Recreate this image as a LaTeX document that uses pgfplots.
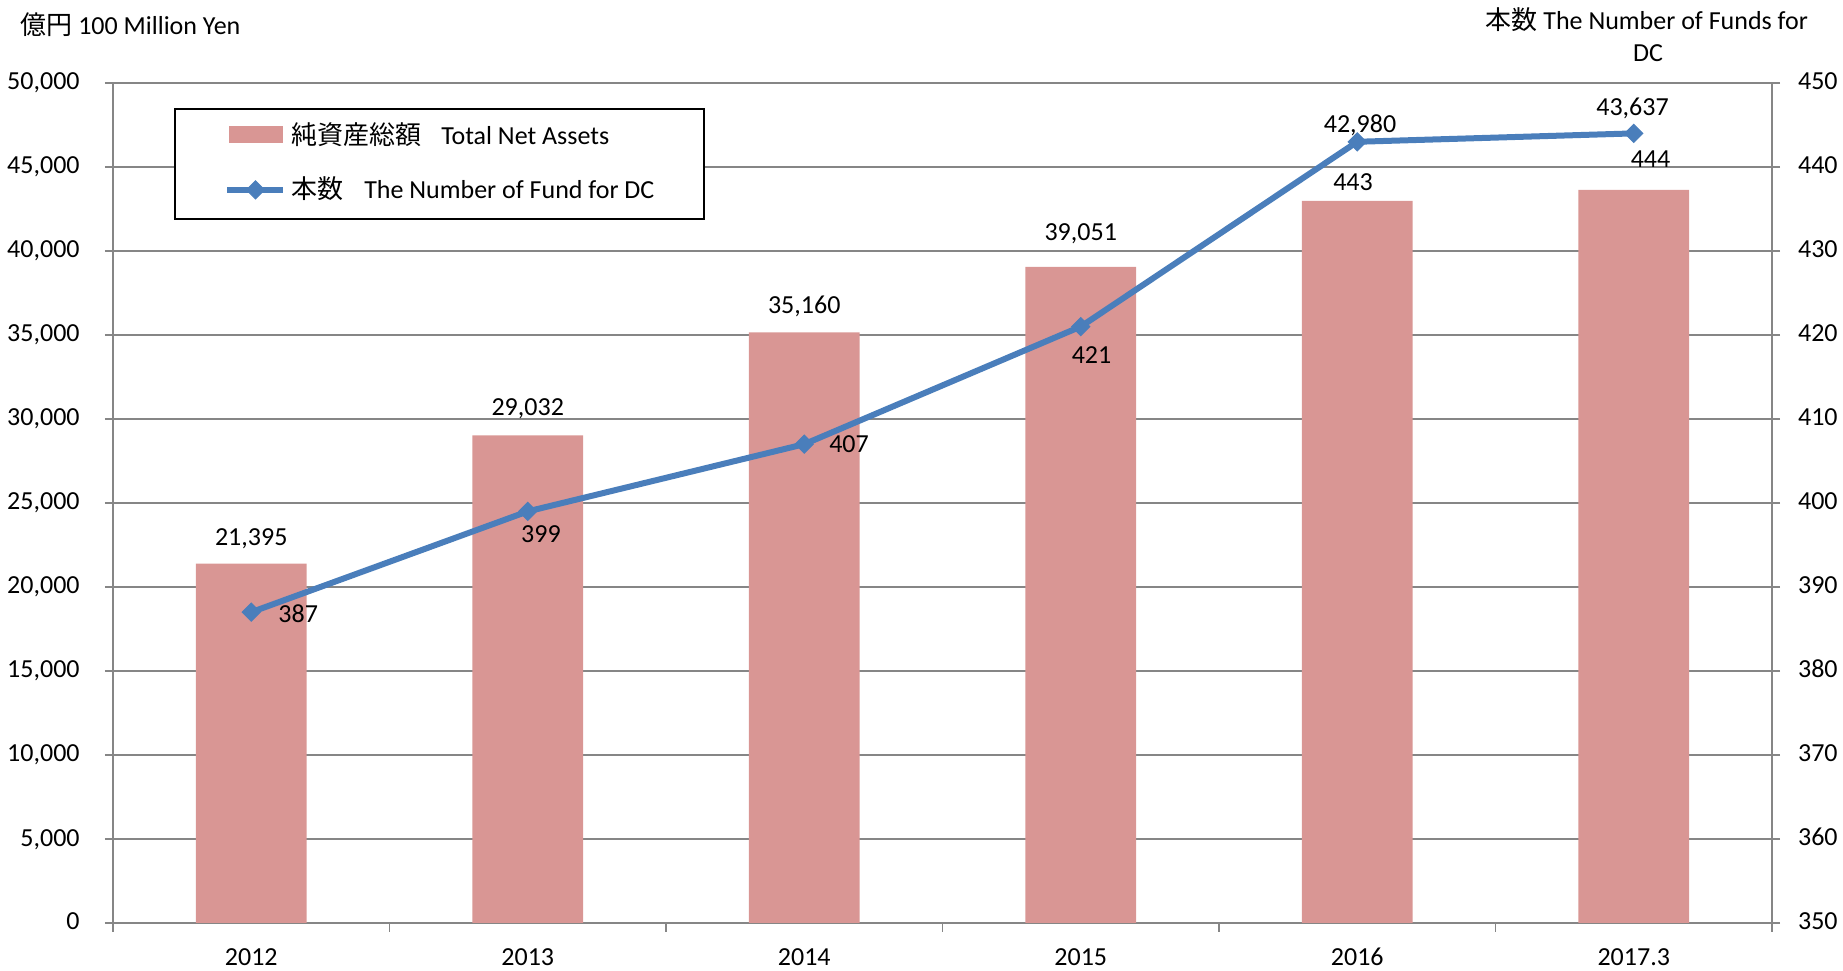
\documentclass[border=0pt]{standalone}
\usepackage{fontspec}
\setmainfont{Carlito}
\newfontfamily\cjk{Noto Sans CJK JP}
\usepackage{pgfplots}
\pgfplotsset{compat=1.18}
\definecolor{barcol}{RGB}{217,150,148}
\definecolor{linecol}{RGB}{74,126,187}
\definecolor{gridcol}{RGB}{134,134,134}
\pgfplotsset{
  lineleg/.style={legend image code/.code={\draw[##1, line width=3.1pt, mark repeat=2, mark phase=2, yshift=0.5pt] plot coordinates {(0pt,0pt) (14pt,0pt) (28pt,0pt)};}},
  barleg/.style={legend image code/.code={\fill[barcol] (1.35pt,-2.7pt) rectangle (27.5pt,4.5pt);}},
}
\begin{document}
\begin{tikzpicture}
\useasboundingbox (0,0) rectangle (921.5pt,485pt);
\pgfplotsset{
  base/.style={
    scale only axis, width=829.5pt, height=420pt,
    at={(56.5pt,23.5pt)}, anchor=south west,
    xmin=-0.5, xmax=5.5,
    tick align=outside,
    tick style={gridcol, line width=0.8pt},
    axis line style={gridcol, line width=0.8pt},
    font=\fontsize{13}{15.6}\selectfont,
    ticklabel style={font=\fontsize{13}{15.6}\selectfont},
    /pgf/number format/assume math mode=true,
    /pgf/number format/1000 sep={,},
    scaled y ticks=false,
    clip=false,
  }
}
\begin{axis}[base,
  axis x line*=bottom, axis y line*=left,
  ymin=0, ymax=50000, ytick={0,5000,...,50000},
  ymajorgrids, grid style={gridcol, line width=0.8pt},
  xtick={0,...,5}, xticklabels={2012,2013,2014,2015,2016,2017.3},
  major x tick style={draw=none},
  minor xtick={-0.5,0.5,...,5.5},
  minor tick length=4.5pt,
  major tick length=4pt,
  xticklabel style={anchor=base, inner sep=0pt, yshift=-17pt},
  yticklabel style={anchor=base east, inner sep=0pt, xshift=-12.5pt, yshift=-3.5pt},
]
\addplot[ybar, bar width=0.4, bar shift=0pt, fill=barcol, draw=none]
  coordinates {(0,21395) (1,29032) (2,35160) (3,39051) (4,42980) (5,43637)};
\node[anchor=base, inner sep=0pt, yshift=8.8pt] at (axis cs:0,21395) {21,395};
\node[anchor=base, inner sep=0pt, yshift=9.8pt] at (axis cs:1,29032) {29,032};
\node[anchor=base, inner sep=0pt, yshift=9.5pt] at (axis cs:2,35160) {35,160};
\node[anchor=base, inner sep=0pt, yshift=13.3pt] at (axis cs:3,39051) {39,051};
\end{axis}
\begin{axis}[base,
  axis x line=none, axis y line*=right,
  ymin=350, ymax=450, ytick={350,360,...,450},
  major tick length=4pt,
  yticklabel style={anchor=base west, inner sep=0pt, xshift=8.85pt, yshift=-3.3pt},
  legend style={
    at={(0.0368,0.9706)}, anchor=north west,
    draw=black, line width=1pt,
    inner xsep=24.65pt, inner ysep=7.5pt,
    row sep=14.4pt, column sep=2.35pt,
    font=\fontsize{13}{15.6}\selectfont,
    cells={anchor=west},
    nodes={inner sep=0pt, text height=10.3pt, text depth=2.5pt},
  },
]
\addlegendimage{barleg}
\addlegendentry{{\cjk 純資産総額}\hspace{10pt}Total Net Assets}
\addplot[linecol, line width=3pt, mark=square*, mark size=3.2pt,
  mark options={rotate=45, line width=0.5pt, fill=linecol}, lineleg]
  coordinates {(0,387) (1,399) (2,407) (3,421) (4,443) (5,444)};
\addlegendentry{{\cjk 本数}\hspace{10.5pt}The Number of Fund for DC}
\node[anchor=base, inner sep=0pt, xshift=23.5pt, yshift=-5pt] at (axis cs:0,387) {387};
\node[anchor=base, inner sep=0pt, xshift=6.6pt, yshift=-15.6pt] at (axis cs:1,399) {399};
\node[anchor=base, inner sep=0pt, xshift=22.4pt, yshift=-4.2pt] at (axis cs:2,407) {407};
\node[anchor=base, inner sep=0pt, xshift=5.4pt, yshift=-18.3pt] at (axis cs:3,421) {421};
\node[anchor=base, inner sep=0pt, xshift=-2.1pt, yshift=-24.2pt] at (axis cs:4,443) {443};
\node[anchor=base, inner sep=0pt, xshift=8.4pt, yshift=-17pt] at (axis cs:5,444) {444};
\node[anchor=base, inner sep=0pt, xshift=1.4pt, yshift=4.7pt] at (axis cs:4,443) {42,980};
\node[anchor=base, inner sep=0pt, xshift=-0.6pt, yshift=8.8pt] at (axis cs:5,444) {43,637};
\end{axis}
\node[anchor=base west, inner sep=0pt, font=\fontsize{13}{15.6}\selectfont] at (10pt,467.85pt) {{\cjk 億円} 100 Million Yen};
\node[anchor=base, inner sep=0pt, font=\fontsize{13}{15.6}\selectfont] at (823.35pt,470.35pt) {{\cjk 本数} The Number of Funds for};
\node[anchor=base, inner sep=0pt, font=\fontsize{13}{15.6}\selectfont] at (824pt,454.15pt) {DC};
\end{tikzpicture}
\end{document}
